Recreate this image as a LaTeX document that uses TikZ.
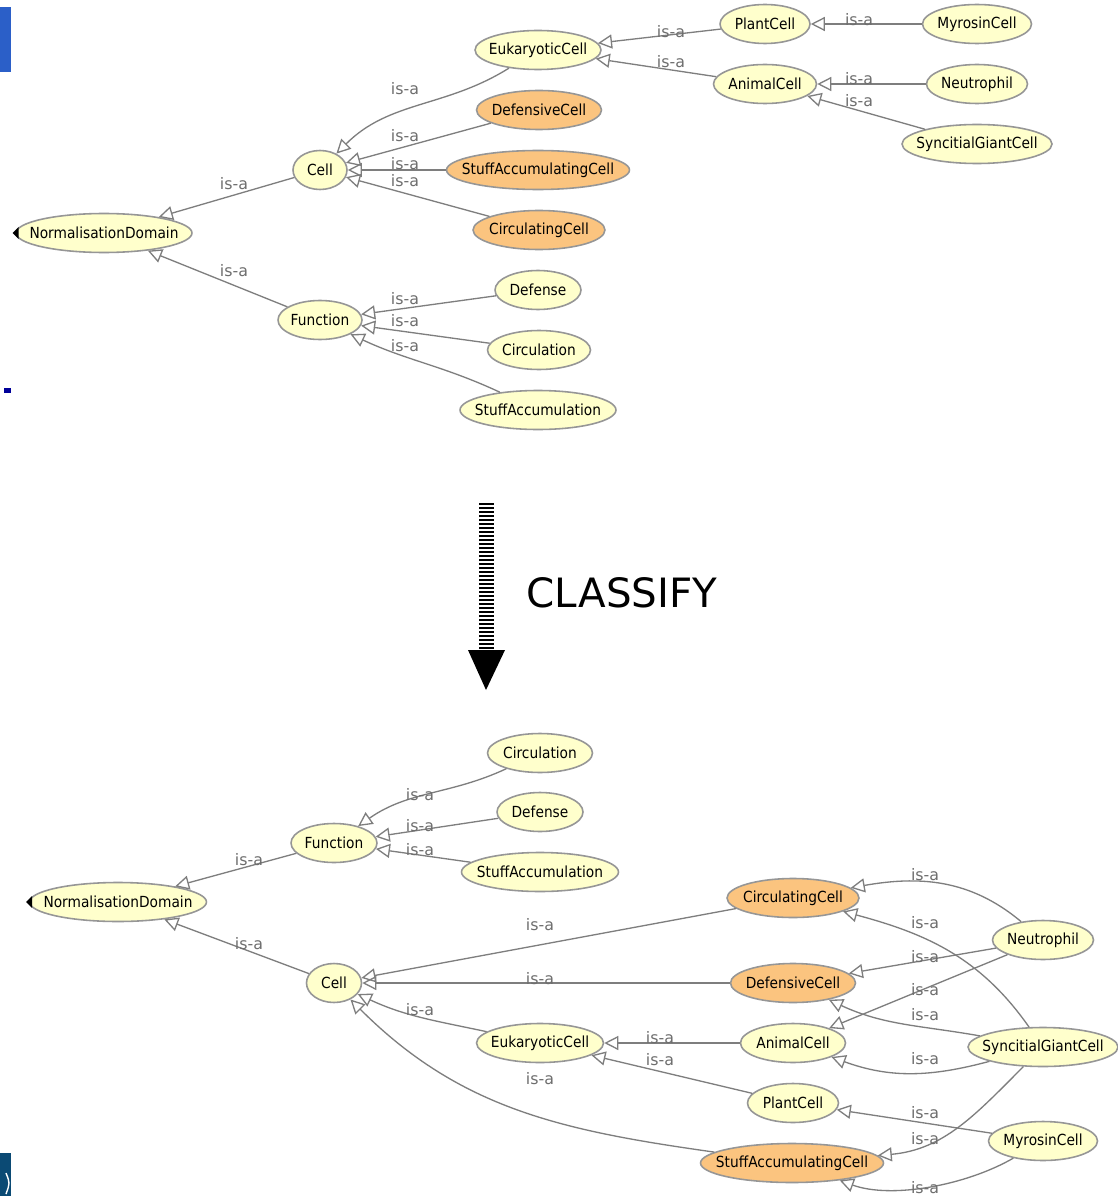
\documentclass[tikz,border=0pt]{standalone}
\usepackage{fontspec}
\setmainfont{DejaVu Sans}
\newfontfamily\classfont{DejaVu Sans}[FakeStretch=0.9]
\usepackage{tikz}
\usetikzlibrary{shapes.geometric,arrows.meta}
\definecolor{clsFill}{HTML}{FFFFCC}
\definecolor{defFill}{HTML}{FBC47F}
\definecolor{clsLine}{HTML}{969696}
\definecolor{edgeGray}{HTML}{7E7E7E}
\definecolor{lblGray}{HTML}{6E6E6E}
\definecolor{barBlue}{HTML}{2B5FC8}
\definecolor{barNavy}{HTML}{0B4A74}
\tikzset{
  cls/.style={ellipse,draw=clsLine,line width=0.9pt,fill=clsFill,
              inner sep=-30pt,minimum height=0.78cm,
              font=\classfont\fontsize{8.7}{10}\selectfont},
  defcls/.style={cls,fill=defFill},
  isa/.style={draw=edgeGray,line width=0.75pt,
              -{Triangle[open,length=8pt,width=8pt]}},
  isalbl/.style={text=lblGray,inner sep=0pt,font=\fontsize{9}{10}\selectfont},
}

\begin{document}
\begin{tikzpicture}[x=0.02cm,y=-0.02cm]
  \useasboundingbox (0,0) rectangle (1118,1196);
  \fill[white] (0,0) rectangle (1118,1196);

  % bits of the page edge
  \fill[barBlue] (0,7) rectangle (11,72);
  \fill[blue!60!black] (4,388) rectangle (11,393);
  \fill[barNavy] (0,1153) rectangle (11,1196);
  \draw[white,line width=0.8pt] (6,1173) .. controls (10,1183) .. (6,1194);

  %% asserted hierarchy
  \node[cls,minimum width=3.52cm] (tnd) at (104,233) {NormalisationDomain};
  \node[cls,minimum width=1.08cm] (tcell) at (320,170) {Cell};
  \node[cls,minimum width=1.68cm] (tfunc) at (320,320) {Function};
  \node[cls,minimum width=2.52cm] (teuk) at (538,50) {EukaryoticCell};
  \node[defcls,minimum width=2.50cm] (tdefc) at (539,110) {DefensiveCell};
  \node[defcls,minimum width=3.66cm] (tsac) at (538,170) {StuffAccumulatingCell};
  \node[defcls,minimum width=2.64cm] (tcircc) at (539,230) {CirculatingCell};
  \node[cls,minimum width=1.80cm] (tplant) at (765,24) {PlantCell};
  \node[cls,minimum width=2.06cm] (tanimal) at (765,84) {AnimalCell};
  \node[cls,minimum width=2.18cm] (tmyr) at (977,24) {MyrosinCell};
  \node[cls,minimum width=2.02cm] (tneu) at (977,84) {Neutrophil};
  \node[cls,minimum width=3.00cm] (tsyn) at (977,144) {SyncitialGiantCell};
  \node[cls,minimum width=1.72cm] (tdefense) at (538,290) {Defense};
  \node[cls,minimum width=2.06cm] (tcirc) at (539,350) {Circulation};
  \node[cls,minimum width=3.12cm] (tstuffacc) at (538,410) {StuffAccumulation};
  \fill ([xshift=-1.5pt]tnd.west) -- ++(6,-6) -- ++(0,12) -- cycle;

  \draw[isa] (tcell) -- (tnd);
  \draw[isa] (tfunc) -- (tnd);
  \draw[isa] (teuk) to[out=212,in=45] (tcell);
  \draw[isa] (tdefc) -- (tcell);
  \draw[isa] (tsac) -- (tcell);
  \draw[isa] (tcircc) -- (tcell);
  \draw[isa] (tplant) -- (teuk);
  \draw[isa] (tanimal) -- (teuk);
  \draw[isa] (tmyr) -- (tplant);
  \draw[isa] (tneu) -- (tanimal);
  \draw[isa] (tsyn) -- (tanimal);
  \draw[isa] (tdefense) -- (tfunc);
  \draw[isa] (tcirc) -- (tfunc);
  \draw[isa] (tstuffacc) to[out=155,in=-25] (tfunc);

  \foreach \x/\y [count=\i] in {234/184,234/271,405/89,405/136,405/164,405/181,
      671/32,671/62,859/20,859/79,859/101,405/299,405/321,405/346}
    \node[isalbl] (tl\i) at (\x,\y) {is-a};

  %% classify step
  \coordinate (arrtop) at (486,503);
  \coordinate (arrbase) at (486,650);
  \draw[line width=0.3cm,dash pattern=on 0.045cm off 0.035cm] (arrtop) -- (arrbase);
  \fill (468,650) -- (505,650) -- (486,690) -- cycle;
  \node[inner sep=0pt,font=\fontsize{23}{26}\selectfont] (classify) at (622,593) {CLASSIFY};

  %% inferred hierarchy
  \node[cls,minimum width=3.54cm] (bnd) at (118,902) {NormalisationDomain};
  \node[cls,minimum width=1.72cm] (bfunc) at (334,843) {Function};
  \node[cls,minimum width=1.10cm] (bcell) at (334,983) {Cell};
  \node[cls,minimum width=2.10cm] (bcirc) at (540,753) {Circulation};
  \node[cls,minimum width=1.72cm] (bdefense) at (540,812) {Defense};
  \node[cls,minimum width=3.14cm] (bstuffacc) at (540,872) {StuffAccumulation};
  \node[defcls,minimum width=2.64cm] (bcircc) at (793,898) {CirculatingCell};
  \node[defcls,minimum width=2.50cm] (bdefc) at (793,983) {DefensiveCell};
  \node[cls,minimum width=2.54cm] (beuk) at (540,1043) {EukaryoticCell};
  \node[cls,minimum width=2.10cm] (banimal) at (793,1043) {AnimalCell};
  \node[cls,minimum width=1.82cm] (bplant) at (793,1103) {PlantCell};
  \node[defcls,minimum width=3.66cm] (bsac) at (792,1163) {StuffAccumulatingCell};
  \node[cls,minimum width=2.02cm] (bneu) at (1043,940) {Neutrophil};
  \node[cls,minimum width=3.00cm] (bsyn) at (1043,1047) {SyncitialGiantCell};
  \node[cls,minimum width=2.18cm] (bmyr) at (1043,1141) {MyrosinCell};
  \fill ([xshift=-1.5pt]bnd.west) -- ++(6,-6) -- ++(0,12) -- cycle;

  \draw[isa] (bfunc) -- (bnd);
  \draw[isa] (bcell) -- (bnd);
  \draw[isa] (bcirc) to[out=205,in=35] (bfunc);
  \draw[isa] (bdefense) -- (bfunc);
  \draw[isa] (bstuffacc) -- (bfunc);
  \draw[isa] (bcircc) -- (bcell);
  \draw[isa] (bdefc) -- (bcell);
  \draw[isa] (beuk) to[out=168,in=-25] (bcell);
  \draw[isa] (bsac) to[out=172,in=-45] (bcell);
  \draw[isa] (banimal) -- (beuk);
  \draw[isa] (bplant) -- (beuk);
  \draw[isa] (bneu) to[out=140,in=10] (bcircc);
  \draw[isa] (bsyn) to[out=125,in=-15] (bcircc);
  \draw[isa] (bneu) -- (bdefc);
  \draw[isa] (bneu) -- (banimal);
  \draw[isa] (bsyn) to[out=170,in=-25] (bdefc);
  \draw[isa] (bsyn) to[out=195,in=-20] (banimal);
  \draw[isa] (bmyr) -- (bplant);
  \draw[isa] (bsyn) to[out=225,in=5] (bsac);
  \draw[isa,looseness=0.8] (bmyr) to[out=210,in=-20] (bsac);

  \foreach \x/\y [count=\i] in {249/860,249/944,420/795,420/826,420/850,
      540/925,540/979,420/1010,540/1079,660/1038,660/1060,
      925/875,925/923,925/957,925/990,925/1015,925/1059,925/1113,925/1139,925/1188}
    \node[isalbl] (bl\i) at (\x,\y) {is-a};
\end{tikzpicture}
\end{document}
